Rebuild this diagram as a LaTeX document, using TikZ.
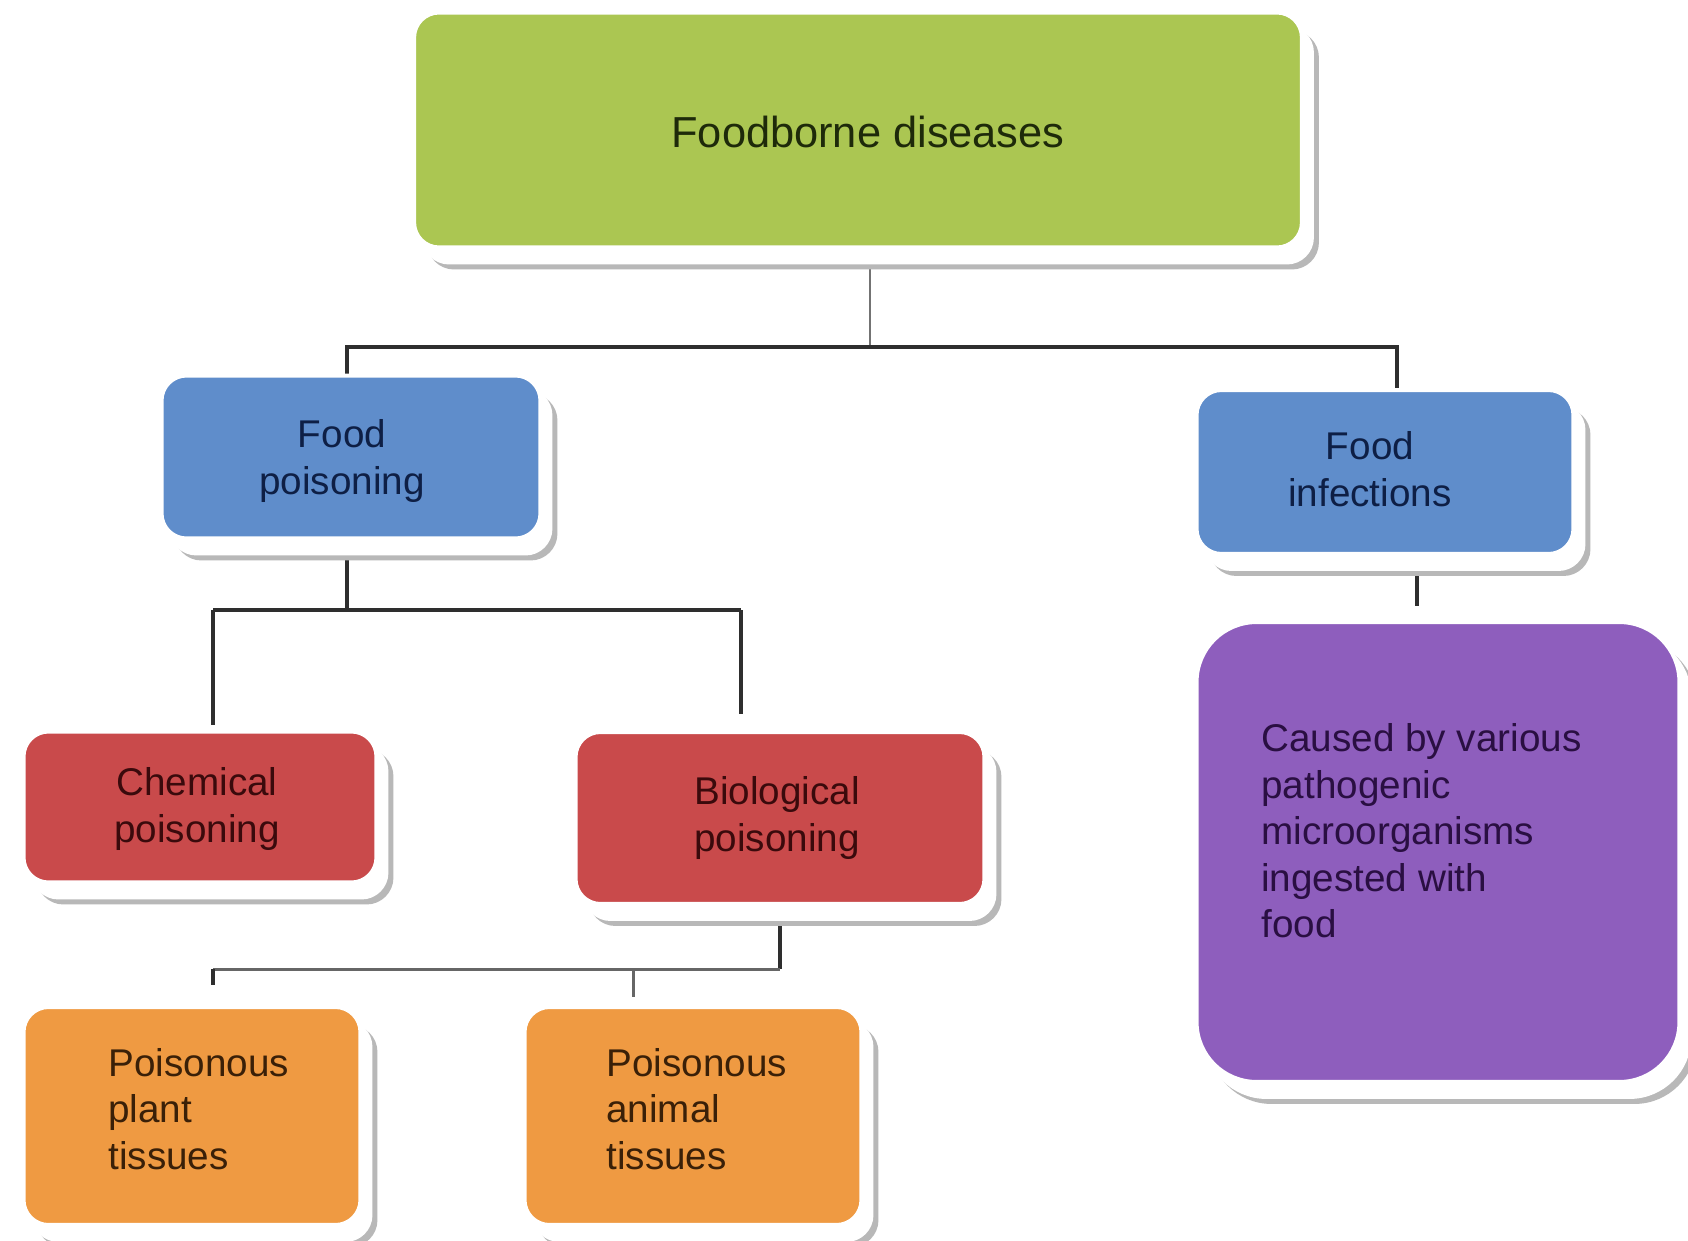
\documentclass[tikz,border=0pt]{standalone}
\usepackage{fontspec}
\setmainfont{Liberation Sans}
\usetikzlibrary{shadows,backgrounds}
\definecolor{cgreen}{HTML}{ABC652}
\definecolor{cblue}{HTML}{5F8DCB}
\definecolor{cred}{HTML}{C94A4B}
\definecolor{corange}{HTML}{EF9A42}
\definecolor{cpurple}{HTML}{8E5EBD}
\definecolor{tgreen}{HTML}{1E2A0A}
\definecolor{tblue}{HTML}{0E1F45}
\definecolor{tred}{HTML}{3A0A0C}
\definecolor{torange}{HTML}{3A2008}
\definecolor{tpurple}{HTML}{2A0F42}
\definecolor{cline}{HTML}{2E2E2E}
\newcommand{\bodyfs}{\fontsize{22pt}{26.5pt}\selectfont}
\newcommand{\titlefs}{\fontsize{24.7pt}{29pt}\selectfont}
\begin{document}
\begin{tikzpicture}[x=0.02cm,y=-0.02cm,
  boxbase/.style={rectangle, rounded corners=0.5cm, draw=white, line width=0.08cm,
    inner sep=0pt,
    drop shadow={shadow xshift=0.3cm, shadow yshift=-0.4cm, fill=black!28, draw=black!28, opacity=1},
    drop shadow={shadow xshift=0.2cm, shadow yshift=-0.3cm, fill=white, draw=white, opacity=1}},
  greenbox/.style={boxbase, fill=cgreen},
  bluebox/.style={boxbase, fill=cblue},
  redbox/.style={boxbase, fill=cred},
  orangebox/.style={boxbase, fill=corange},
  purplebox/.style={boxbase, fill=cpurple, rounded corners=1.2cm},
  centertext/.style={align=center, inner sep=0pt, font=\bodyfs},
  lefttext/.style={anchor=west, align=left, inner sep=0pt, font=\bodyfs},
  mainline/.style={draw=cline, line width=0.08cm},
  thinline/.style={draw=black!55, line width=0.04cm},
  midline/.style={draw=black!60, line width=0.06cm}
]
\useasboundingbox (0,0) rectangle (1688,1241);

% boxes
\node (top) [greenbox, minimum width=17.76cm, minimum height=4.7cm] at (858,130) {};
\node (fp) [bluebox, minimum width=7.58cm, minimum height=3.26cm] at (351,457) {};
\node (fi) [bluebox, minimum width=7.54cm, minimum height=3.28cm] at (1385,472) {};
\node (chem) [redbox, minimum width=7.06cm, minimum height=3.02cm] at (200,807) {};
\node (bio) [redbox, minimum width=8.18cm, minimum height=3.44cm] at (780,818) {};
\node (plant) [orangebox, minimum width=6.74cm, minimum height=4.36cm] at (192,1116) {};
\node (animal) [orangebox, minimum width=6.74cm, minimum height=4.36cm] at (693,1116) {};
\node (purple) [purplebox, minimum width=9.66cm, minimum height=9.2cm] at (1438,852) {};

% texts
\node (toptxt) [centertext, text=tgreen, font=\titlefs] at (868,132) {Foodborne diseases};
\node (fptxt) [centertext, text=tblue] at (342,461) {Food\\poisoning};
\node (fitxt) [centertext, text=tblue] at (1370,469) {Food\\infections};
\node (chemtxt) [centertext, text=tred] at (197,809) {Chemical\\poisoning};
\node (biotxt) [centertext, text=tred] at (777,818) {Biological\\poisoning};
\node (planttxt) [lefttext, text=torange] at (108,1109) {Poisonous\\plant\\tissues};
\node (animaltxt) [lefttext, text=torange] at (606,1109) {Poisonous\\animal\\tissues};
\node (purpletxt) [lefttext, text=tpurple] at (1261,831) {Caused by various\\pathogenic\\microorganisms\\ingested with\\food};

% connector junctions
\coordinate (j0) at (870,347);
\coordinate (j1l) at (347,347);
\coordinate (j1r) at (1397,347);
\coordinate (j2) at (347,610);
\coordinate (j2l) at (213,610);
\coordinate (j2r) at (741,610);
\coordinate (j3) at (780,969);
\coordinate (j3l) at (213,969);
\coordinate (j3m) at (633,969);
\coordinate (j4) at (1417,560);

\begin{scope}[on background layer]
\fill[white] (0,0) rectangle (1688,1241);
\draw[thinline] (j0 |- top.south) -- (j0);
\draw[mainline] (j1l |- fp.north) -- (j1l) -- (j1r) -- (j1r |- fi.north);
\draw[mainline] (j2 |- fp.south) -- (j2);
\draw[mainline, shorten >=0.1cm] (j2l) -- (j2l |- chem.north);
\draw[mainline, shorten >=0.32cm] (j2r) -- (j2r |- bio.north);
\draw[mainline] (j2l) -- (j2r);
\draw[mainline] (bio.south) -- (j3);
\draw[midline] (j3l) -- (j3);
\draw[mainline, shorten >=0.4cm] (j3l) -- (j3l |- plant.north);
\draw[midline, shorten >=0.16cm] (j3m) -- (j3m |- animal.north);
\draw[mainline, shorten >=0.28cm] (j4) -- (j4 |- purple.north);
\end{scope}
\end{tikzpicture}
\end{document}
